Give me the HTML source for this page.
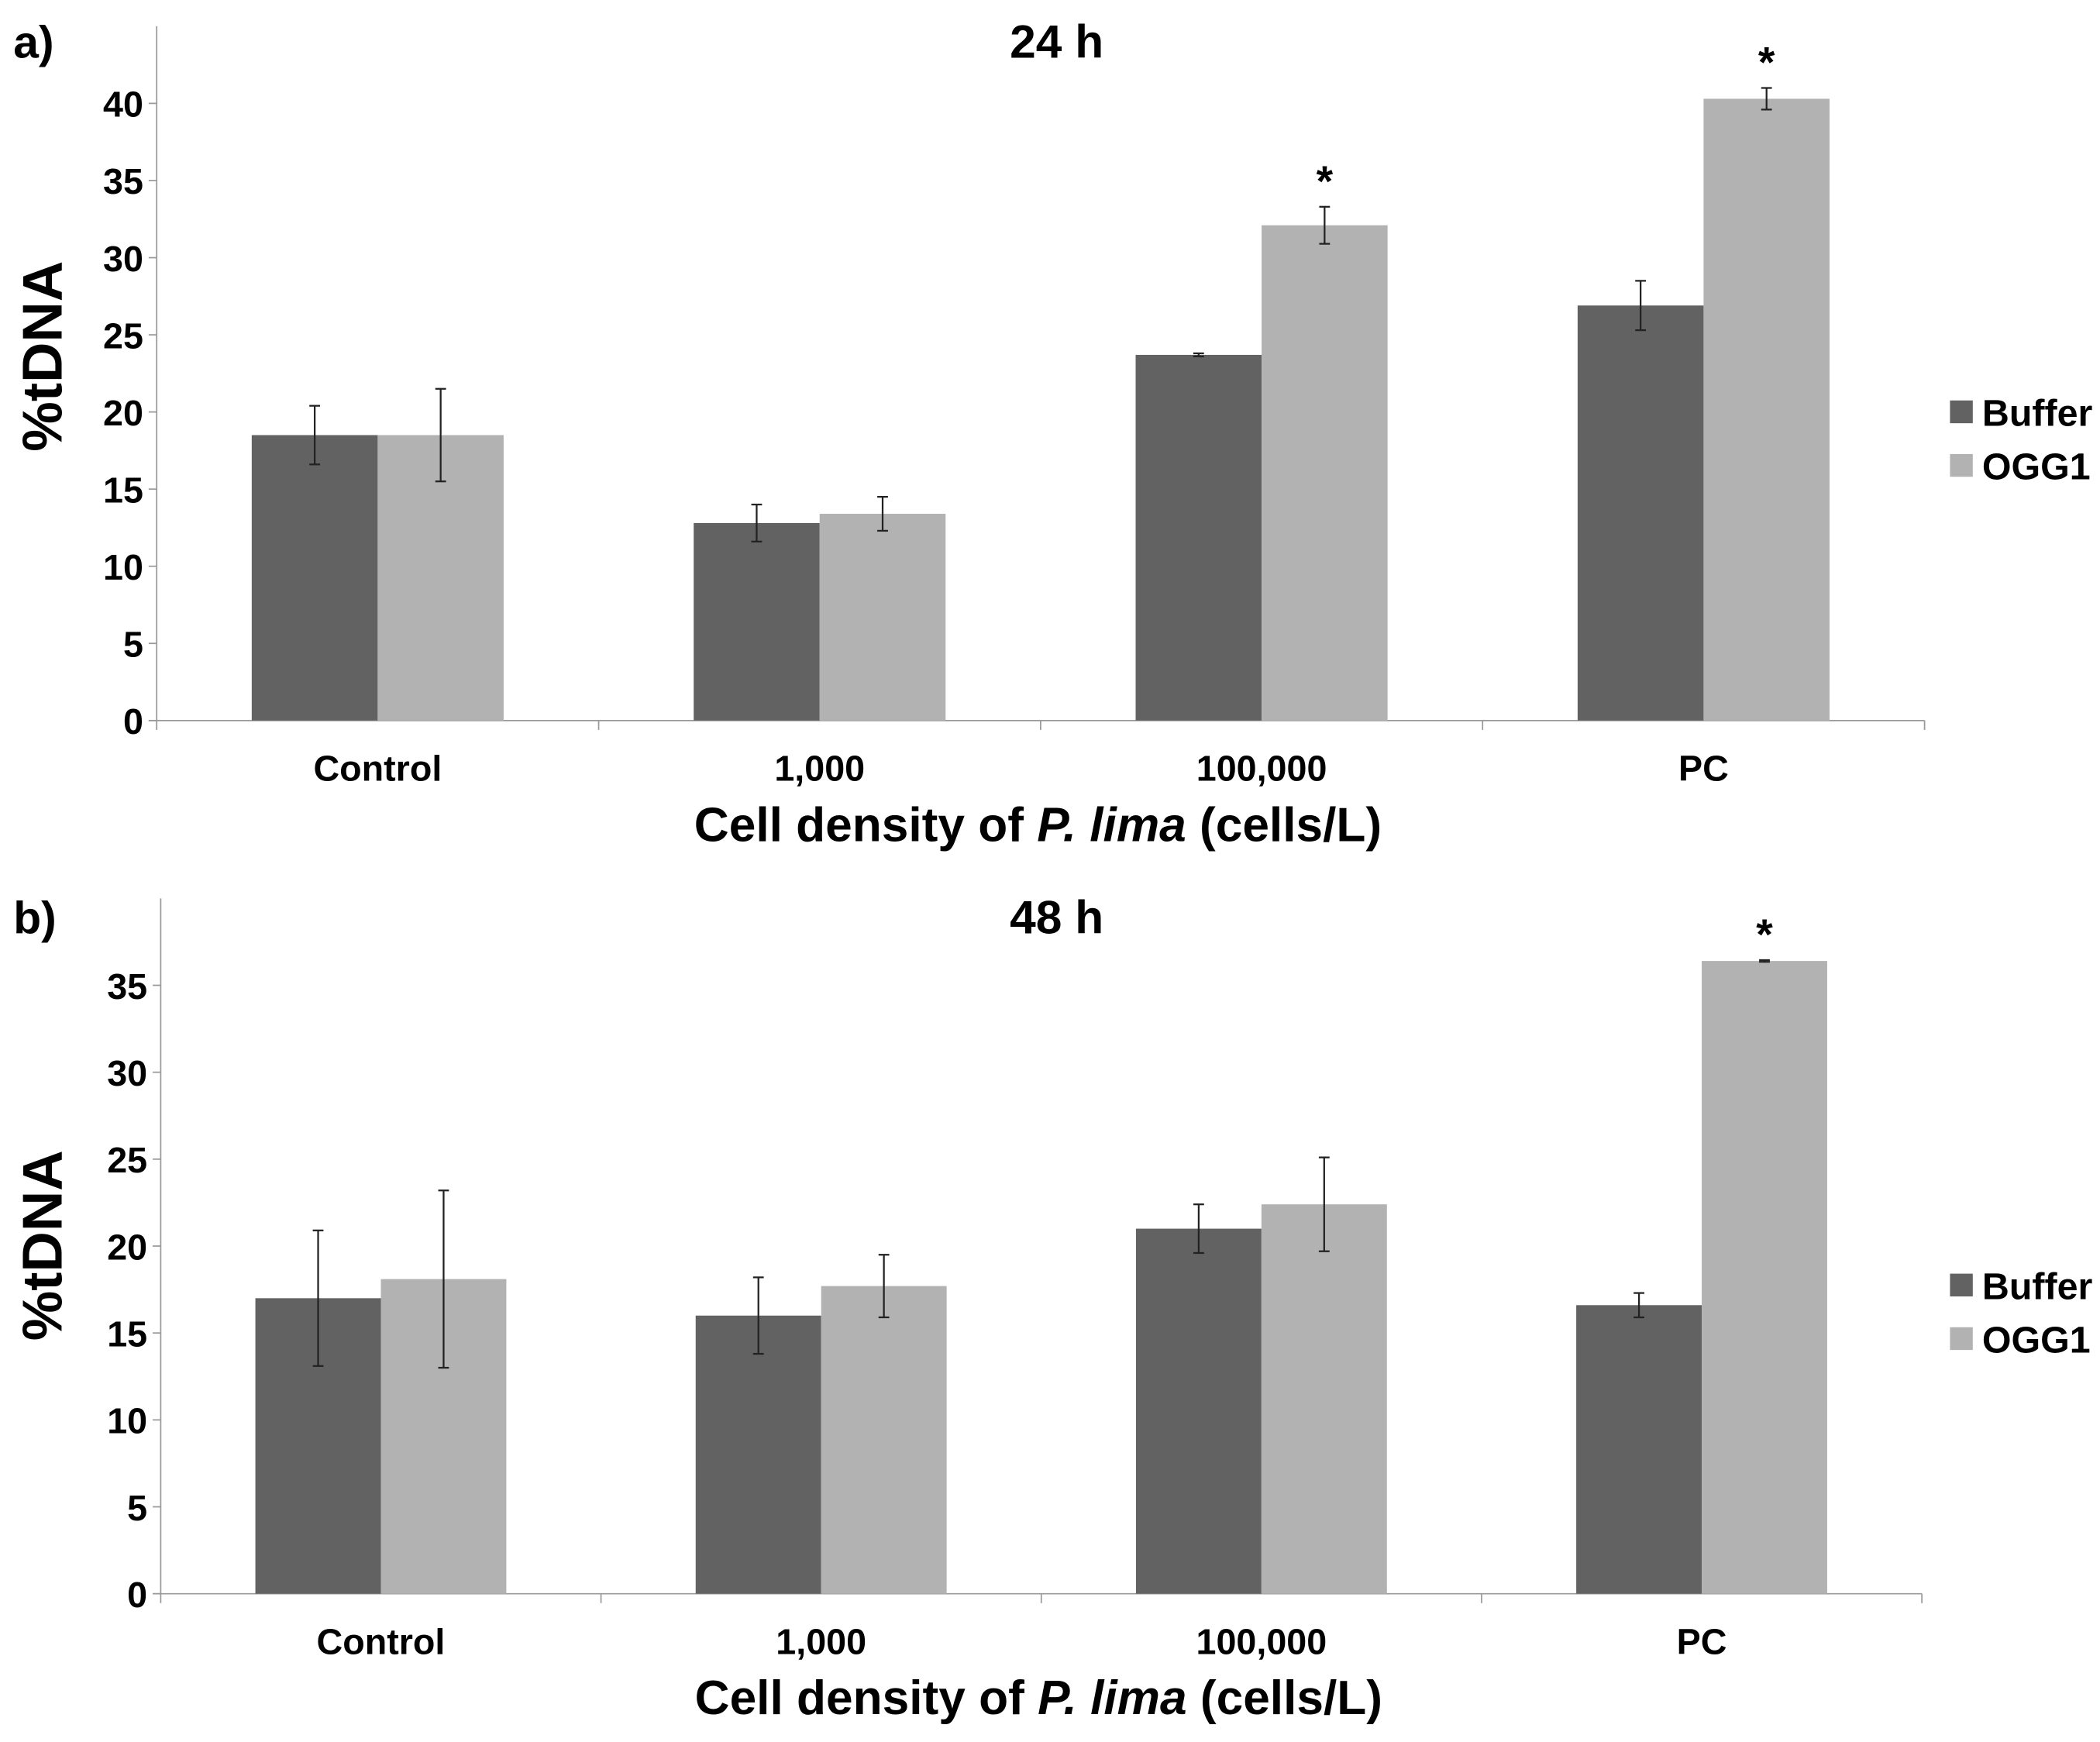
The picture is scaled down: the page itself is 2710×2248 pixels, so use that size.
<!DOCTYPE html>
<html><head><meta charset="utf-8"><style>
html,body{margin:0;padding:0;background:#fff;}
svg{display:block;font-family:"Liberation Sans",Arial,sans-serif;font-weight:bold;}
</style></head><body>
<svg id="fig" width="2710" height="2248" viewBox="0 0 1568 1300.7" preserveAspectRatio="none" xmlns="http://www.w3.org/2000/svg"></svg>
<script>
const categories = ["Control", "1,000", "100,000", "PC"];
const seriesNames = ["Buffer", "OGG1"];
const bufferA = [18.5, 12.8, 23.7, 26.9];
const bufferAErr = [1.9, 1.2, 0.1, 1.6];
const oggA = [18.5, 13.4, 32.1, 40.3];
const oggAErr = [3.0, 1.1, 1.2, 0.7];
const starsA = [false, false, true, true];
const ticksA = [0, 5, 10, 15, 20, 25, 30, 35, 40];
const bufferB = [17.0, 16.0, 21.0, 16.6];
const bufferBErr = [3.9, 2.2, 1.4, 0.7];
const oggB = [18.1, 17.7, 22.4, 36.4];
const oggBErr = [5.1, 1.8, 2.7, 0.05];
const starsB = [false, false, false, true];
const ticksB = [0, 5, 10, 15, 20, 25, 30, 35];

const NS = "http://www.w3.org/2000/svg";
const svg = document.getElementById("fig");
function el(tag, attrs, parent, text) {
  const e = document.createElementNS(NS, tag);
  for (const k in attrs) e.setAttribute(k, attrs[k]);
  if (text !== undefined) e.textContent = text;
  (parent || svg).appendChild(e);
  return e;
}

function panel(cfg) {
  const g = el("g", {});
  
  
  const y = v => cfg.y0 - (v / 5) * cfg.step;
  const gw = (cfg.x1 - cfg.x0) / categories.length;
  const ax = el("line", {x1: cfg.x0, y1: y(cfg.max), x2: cfg.x0, y2: cfg.y0, stroke: "#999", "stroke-width": 1}, g);
  
  
  const xa = el("line", {x1: cfg.x0 - 6, y1: cfg.y0, x2: cfg.x1, y2: cfg.y0, stroke: "#999", "stroke-width": 1}, g);
  
  
  cfg.ticks.forEach(t => {
    el("line", {x1: cfg.x0 - 6, y1: y(t), x2: cfg.x0, y2: y(t), stroke: "#999"}, g);
    const tl = el("text", {x: cfg.x0 - 10, y: y(t) + 10, "text-anchor": "end", "font-size": 27}, g, String(t));
    
    
  });
  for (let i = 0; i <= categories.length; i++) {
    const x = cfg.x0 + i * gw;
    el("line", {x1: x, y1: cfg.y0, x2: x, y2: cfg.y0 + 7, stroke: "#999"}, g);
  }
  const bw = gw * 0.285;
  categories.forEach((c, i) => {
    const cx = cfg.x0 + (i + 0.5) * gw;
    const series = [[cfg.buf[i], cfg.bufErr[i], "#626262", cx - bw], [cfg.ogg[i], cfg.oggErr[i], "#b2b2b2", cx]];
    series.forEach((s, j) => {
      const r = el("rect", {x: s[3], y: y(s[0]), width: bw, height: cfg.y0 - y(s[0]), fill: s[2]}, g);
      
      
      const mx = s[3] + bw / 2;
      const eg = el("g", {stroke: "#222", "stroke-width": 1.3}, g);
      
      
      el("line", {x1: mx, y1: y(s[0] + s[1]), x2: mx, y2: y(s[0] - s[1])}, eg);
      el("line", {x1: mx - 4, y1: y(s[0] + s[1]), x2: mx + 4, y2: y(s[0] + s[1])}, eg);
      el("line", {x1: mx - 4, y1: y(s[0] - s[1]), x2: mx + 4, y2: y(s[0] - s[1])}, eg);
      if (j === 1 && cfg.stars[i]) {
        const st = el("text", {x: mx, y: y(s[0] + s[1]) - 8, "text-anchor": "middle", "font-size": 32}, g, "*");
        
        
      }
    });
    const cl = el("text", {x: cx, y: cfg.y0 + 45, "text-anchor": "middle", "font-size": 27}, g, c);
    
    
  });
  const xt = el("text", {x: (cfg.x0 + cfg.x1) / 2 - 2, y: cfg.y0 + 90, "text-anchor": "middle", "font-size": 36}, g);
  
  
  el("tspan", {}, xt, "Cell density of ");
  el("tspan", {"font-style": "italic"}, xt, "P. lima");
  el("tspan", {}, xt, " (cells/L)");
  const yt = el("text", {x: 0, y: 0, transform: `translate(46,${cfg.ymid}) rotate(-90)`, "text-anchor": "middle", "font-size": 42}, g, "%tDNA");
  
  
  const ti = el("text", {x: 789, y: cfg.titleY, "text-anchor": "middle", "font-size": 35}, g, cfg.title);
  
  
  const pl = el("text", {x: 10, y: cfg.titleY, "font-size": 34}, g, cfg.letter);
  
  
  seriesNames.forEach((n, j) => {
    const ly = cfg.legY + j * 40;
    const lg = el("g", {}, g);
    
    
    el("rect", {x: 1456, y: ly - 17, width: 17, height: 17, fill: j ? "#b2b2b2" : "#626262"}, lg);
    el("text", {x: 1480, y: ly + 2, "font-size": 28}, lg, n);
  });
}

panel({name: "panel-a-24h", x0: 117, x1: 1437, y0: 538, step: 57.6, max: 45, ticks: ticksA,
  buf: bufferA, bufErr: bufferAErr, ogg: oggA, oggErr: oggAErr, stars: starsA,
  title: "24 h", letter: "a)", titleY: 43, ymid: 266, legY: 316});
panel({name: "panel-b-48h", x0: 120, x1: 1435, y0: 1190, step: 64.9, max: 40, ticks: ticksB,
  buf: bufferB, bufErr: bufferBErr, ogg: oggB, oggErr: oggBErr, stars: starsB,
  title: "48 h", letter: "b)", titleY: 697, ymid: 930, legY: 968});
</script>
</body></html>
